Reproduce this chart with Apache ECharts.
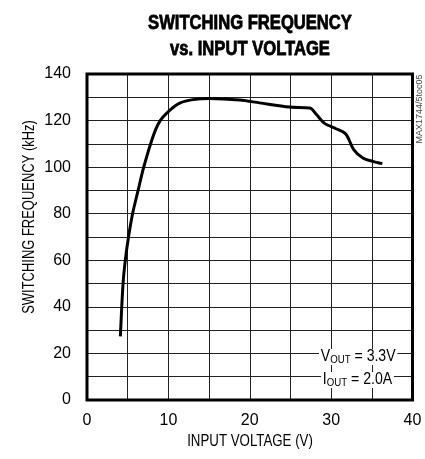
<!DOCTYPE html>
<html>
<head>
<meta charset="utf-8">
<script src="https://cdn.jsdelivr.net/npm/echarts@6/dist/echarts.min.js"></script>
<style>
  html, body { margin: 0; padding: 0; background: #fff; }
  #chart { width: 425px; height: 459px; }
</style>
</head>
<body>
<div id="chart"></div>
<script>
// input voltage (V)
var vin = [4.1, 4.43, 4.72, 5.12, 5.62, 6.28, 6.97, 8.2, 9.0, 10.2, 11.4, 13.0, 15.1,
           18.8, 21.2, 24.9, 27.4, 28.2, 29.2, 30.6, 31.8, 32.8, 33.9, 35.1, 36.3];
// switching frequency (kHz)
var freq = [27.3, 50, 60.4, 70.4, 80.3, 90, 100, 114, 120, 124.5, 127.5, 129, 129.5,
            128.8, 127.6, 125.8, 125.4, 122.6, 118.8, 116.5, 114.2, 107.4, 103.9, 102.5, 101.5];

var xTicks = [0, 10, 20, 30, 40];
var yTicks = [0, 20, 40, 60, 80, 100, 120, 140];

var FONT = "'Liberation Sans', Arial, sans-serif";

var points = [];
for (var i = 0, len = vin.length; i < len; i++) {
    points.push([vin[i], freq[i]]);
}

//narrow text: the original uses a condensed face, so squeeze it
function narrowText(txt, x, y, size, opts) {
    opts = opts || {};
    var style = {
        text: txt,
        font: (opts.weight || 'normal') + ' ' + size + 'px ' + FONT,
        fill: opts.color || '#000',
        align: 'center',
        verticalAlign: 'middle'
    };
    if (opts.heavy) {
        style.stroke = '#000';
        style.lineWidth = 0.8;
    }
    return {
        type: 'text',
        x: x,
        y: y,
        rotation: opts.rotation || 0,
        scaleX: opts.scaleX || 0.83,
        z: 10,
        style: style
    };
}

function noteText(txt, x, y) {
    return {
        type: 'text',
        x: x,
        y: y,
        scaleX: 0.88,
        z: 10,
        style: {
            text: txt,
            align: 'left',
            verticalAlign: 'middle',
            backgroundColor: '#fff',
            padding: [0, 2],
            rich: {
                a: { fontFamily: FONT, fontSize: 16, color: '#000', lineHeight: 16, verticalAlign: 'middle' },
                s: { fontFamily: FONT, fontSize: 11, color: '#000', lineHeight: 16, verticalAlign: 'bottom', padding: [6, 0, 0, 0] }
            }
        }
    };
}

var chart = echarts.init(document.getElementById('chart'));

var option = {
    backgroundColor: '#fff',
    animation: false,
    grid: {
        left: 87,
        right: 12.5,
        top: 74,
        bottom: 59,
        show: true,
        borderColor: '#000',
        borderWidth: 3,
        z: 3
    },
    xAxis: {
        type: 'value',
        min: 0,
        max: 40,
        interval: 5,
        axisLine: { show: false },
        axisTick: { show: false },
        axisLabel: {
            margin: 13,
            fontFamily: FONT,
            fontSize: 16,
            color: '#000',
            formatter: function(v) {
                return xTicks.indexOf(v) >= 0 ? String(v) : '';
            }
        },
        splitLine: { show: true, lineStyle: { color: '#222', width: 1 } }
    },
    yAxis: {
        type: 'value',
        min: 0,
        max: 140,
        interval: 10,
        axisLine: { show: false },
        axisTick: { show: false },
        axisLabel: {
            margin: 16,
            fontFamily: FONT,
            fontSize: 16,
            color: '#000',
            formatter: function(v) {
                return yTicks.indexOf(v) >= 0 ? String(v) : '';
            }
        },
        splitLine: { show: true, lineStyle: { color: '#222', width: 1 } }
    },
    series: [{
        type: 'line',
        data: points,
        smooth: 0.3,
        showSymbol: false,
        lineStyle: { color: '#000', width: 3 },
        z: 5
    }],
    graphic: [
        narrowText('SWITCHING FREQUENCY', 250, 23, 20, { weight: 'bold', heavy: true }),
        narrowText('vs. INPUT VOLTAGE', 250, 49, 20, { weight: 'bold', heavy: true }),
        narrowText('INPUT VOLTAGE (V)', 250, 442, 16),
        narrowText('SWITCHING FREQUENCY (kHz)', 30, 217, 16, { rotation: Math.PI / 2, scaleX: 0.81 }),
        narrowText('MAX1744/5toc05', 420, 109, 9, { rotation: Math.PI / 2, scaleX: 1, color: '#444' }),
        noteText('{a|V}{s|OUT}{a| = 3.3V}', 319, 357),
        noteText('{a|I}{s|OUT}{a| = 2.0A}', 321, 380)
    ]
};

chart.setOption(option);
</script>
</body>
</html>
